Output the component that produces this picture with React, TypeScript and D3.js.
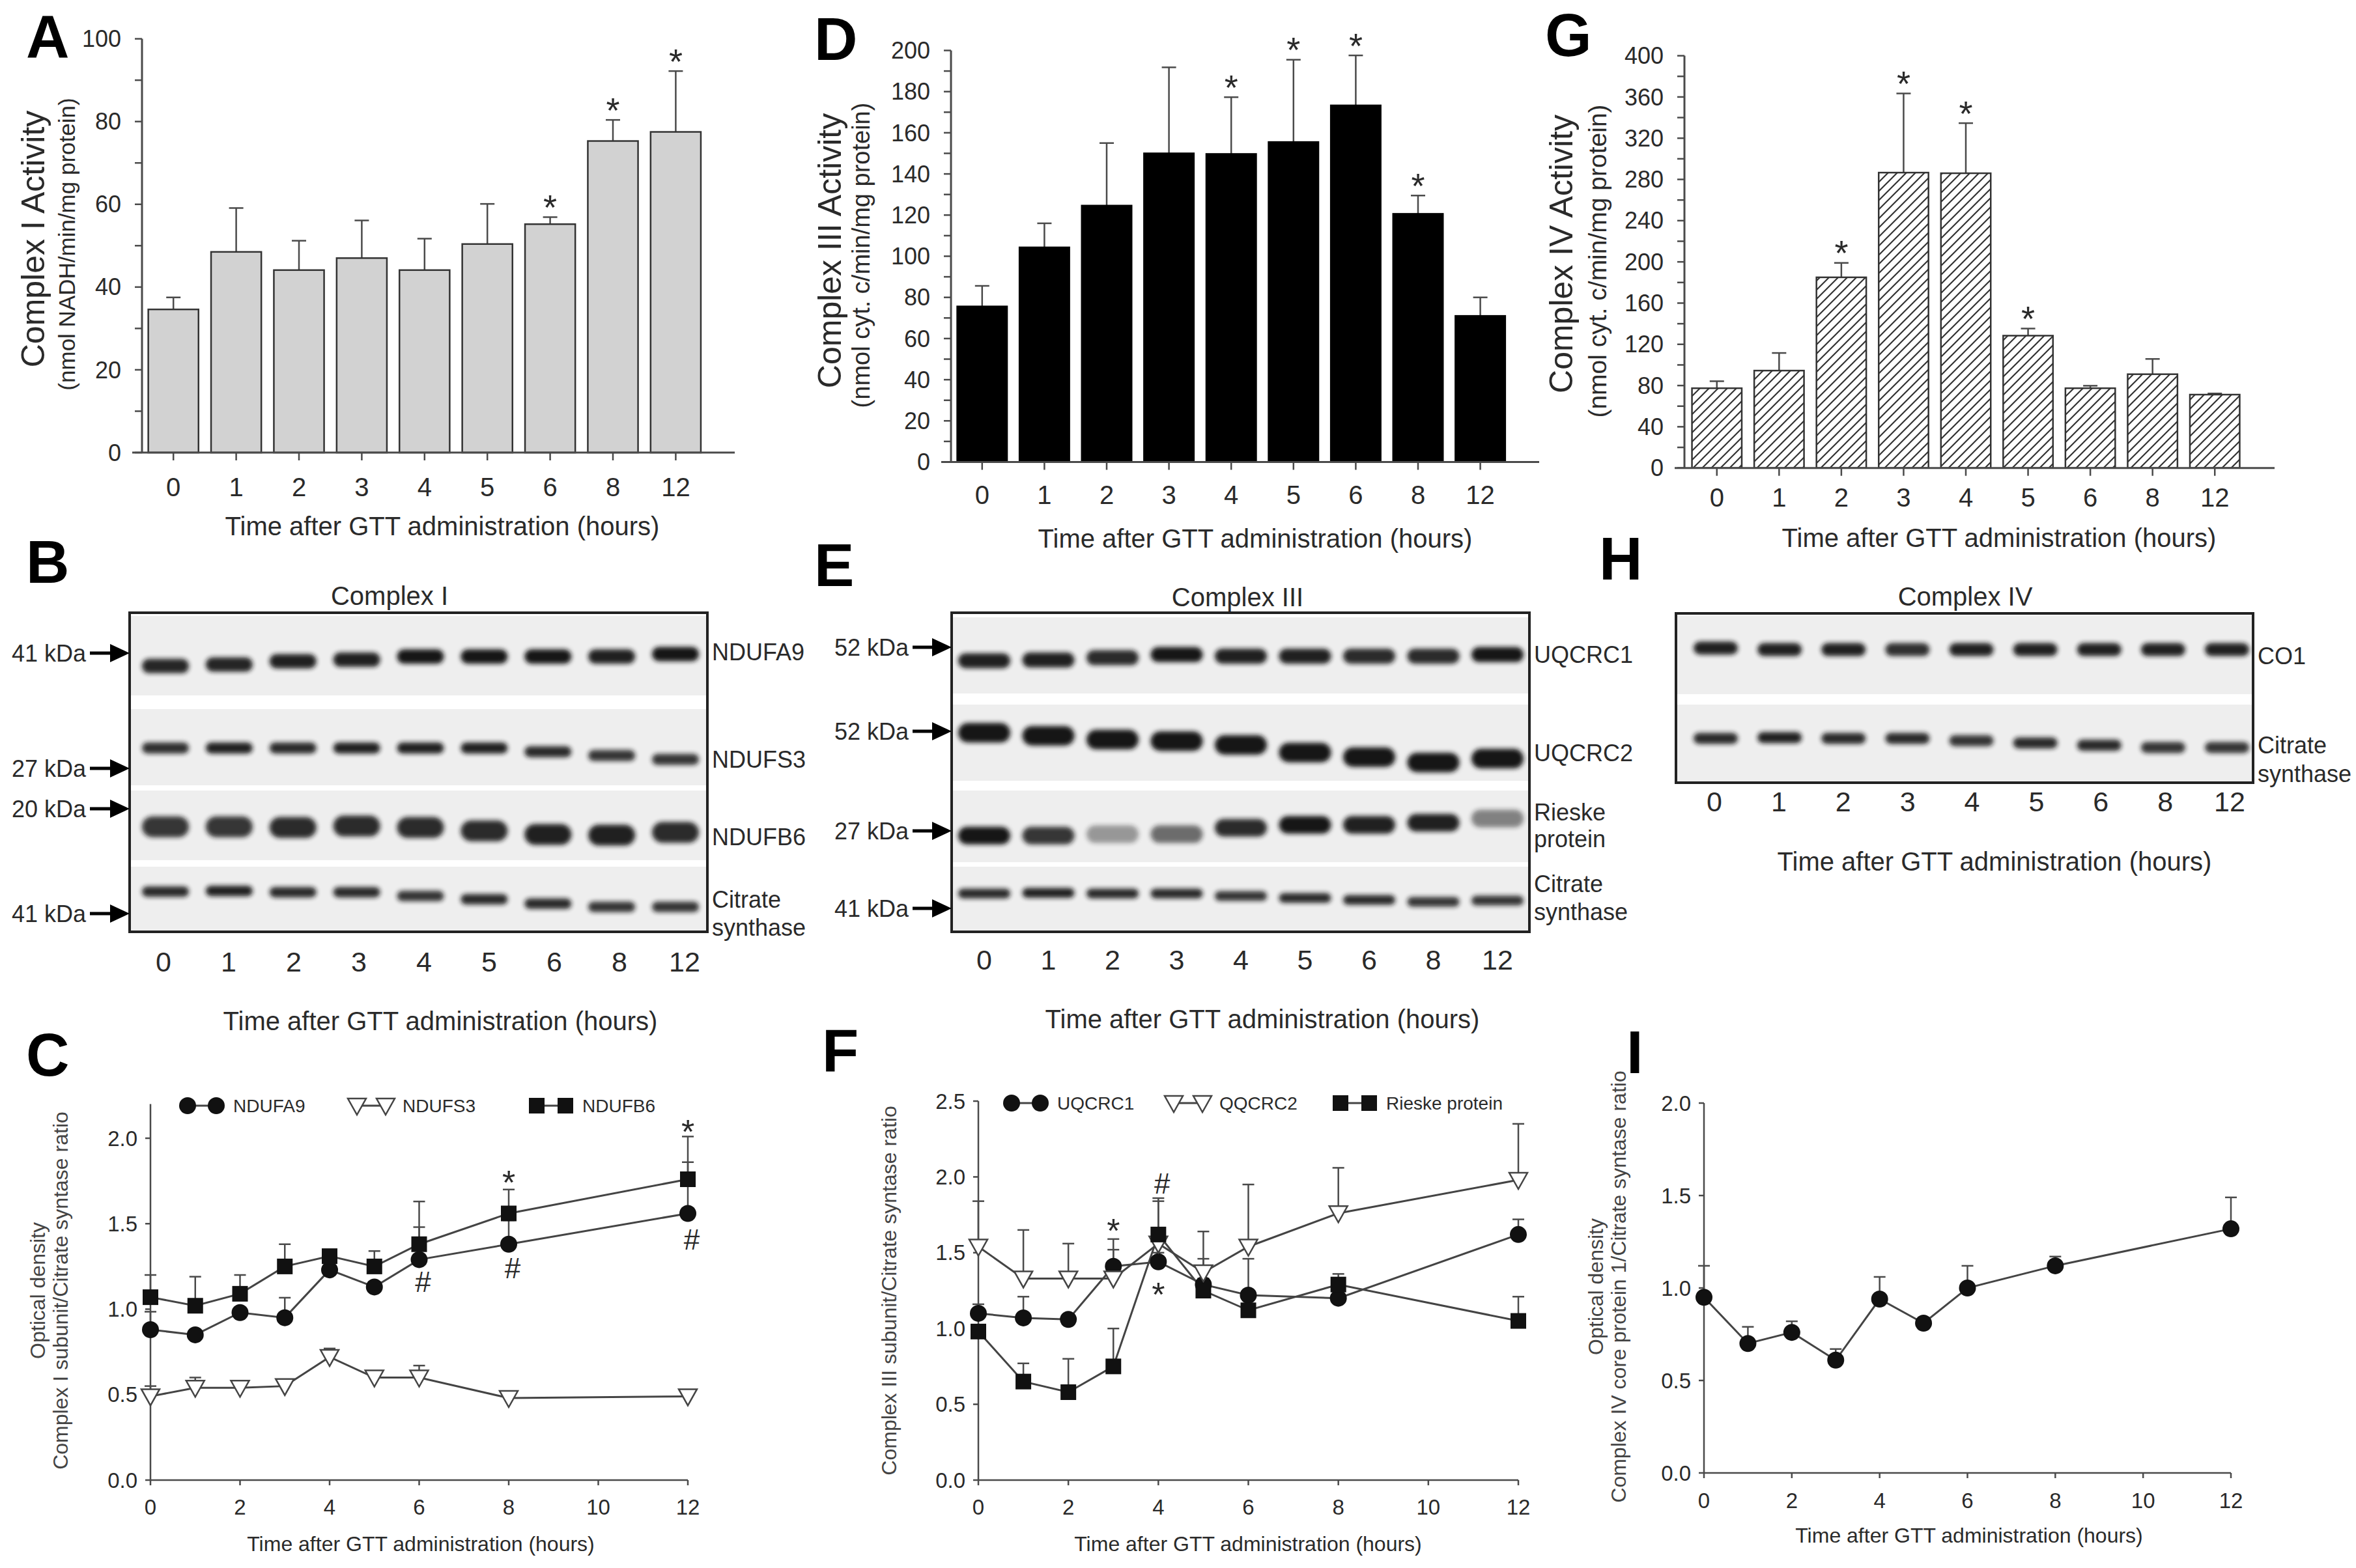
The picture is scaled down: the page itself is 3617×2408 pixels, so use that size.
import * as d3 from "d3"

const FONT = "'Liberation Sans', Arial, Helvetica, sans-serif"
const W = 3617
const H = 2408
const INK = "#2a2a2a"
const AXIS = "#4a4a4a"

// time points shared by every panel
const timeLabels = ["0", "1", "2", "3", "4", "5", "6", "8", "12"]
const timeHours = [0, 1, 2, 3, 4, 5, 6, 8, 12]

// A: complex I activity (nmol NADH/min/mg protein)
const complexIActivity = [34.6, 48.5, 44.1, 47.0, 44.1, 50.4, 55.2, 75.3, 77.5]
const complexIErrTop = [37.5, 59.1, 51.2, 56.1, 51.7, 60.1, 56.9, 80.4, 92.2]
const complexIStars = [0, 0, 0, 0, 0, 0, 1, 1, 1]

// D: complex III activity (nmol cyt. c/min/mg protein)
const complexIIIActivity = [75.6, 104.3, 124.6, 150.0, 149.7, 155.5, 173.3, 120.6, 71.0]
const complexIIIErrTop = [85.6, 116.0, 155.0, 191.8, 177.3, 195.5, 197.6, 129.5, 80.0]
const complexIIIStars = [0, 0, 0, 0, 1, 1, 1, 1, 0]

// G: complex IV activity (nmol cyt. c/min/mg protein)
const complexIVActivity = [77.4, 94.5, 185.0, 286.6, 286.0, 128.4, 77.4, 91.0, 71.2]
const complexIVErrTop = [84.2, 111.6, 199.0, 363.4, 334.6, 135.3, 79.8, 105.8, 72.3]
const complexIVStars = [0, 0, 1, 1, 1, 1, 0, 0, 0]

// blots: band migration inside its strip (0 = top, 1 = bottom) and band intensity
const ndufa9Pos = [0.63, 0.61, 0.57, 0.55, 0.51, 0.51, 0.51, 0.51, 0.48]
const ndufa9Int = [0.92, 0.93, 0.95, 0.95, 1, 1, 1, 0.95, 1]
const ndufs3Pos = [0.51, 0.51, 0.51, 0.51, 0.51, 0.51, 0.56, 0.61, 0.66]
const ndufs3Int = [0.88, 0.95, 0.9, 0.95, 0.95, 0.95, 0.9, 0.85, 0.85]
const ndufb6Pos = [0.52, 0.52, 0.53, 0.51, 0.53, 0.58, 0.63, 0.64, 0.6]
const ndufb6Int = [0.85, 0.85, 0.9, 0.9, 0.9, 0.9, 0.95, 0.95, 0.9]
const csIPos = [0.39, 0.38, 0.4, 0.4, 0.46, 0.51, 0.58, 0.63, 0.63]
const csIInt = [0.9, 0.95, 0.9, 0.9, 0.85, 0.9, 0.9, 0.85, 0.85]

const uqcrc1Pos = [0.57, 0.56, 0.53, 0.49, 0.51, 0.51, 0.51, 0.51, 0.49]
const uqcrc1Int = [0.95, 0.95, 0.9, 1, 0.95, 0.95, 0.9, 0.9, 1]
const uqcrc2Pos = [0.37, 0.41, 0.46, 0.48, 0.53, 0.63, 0.69, 0.76, 0.71]
const uqcrc2Int = [1, 1, 1, 1, 1, 1, 1, 1, 1]
const rieskePos = [0.63, 0.63, 0.61, 0.61, 0.52, 0.48, 0.48, 0.45, 0.39]
const rieskeInt = [1, 0.85, 0.4, 0.6, 0.9, 1, 0.95, 0.95, 0.5]
const csIIIPos = [0.42, 0.41, 0.42, 0.42, 0.46, 0.49, 0.52, 0.55, 0.53]
const csIIIInt = [0.9, 0.95, 0.9, 0.9, 0.85, 0.9, 0.9, 0.85, 0.85]

const co1Pos = [0.41, 0.43, 0.43, 0.43, 0.43, 0.43, 0.43, 0.43, 0.43]
const co1Int = [0.95, 0.95, 0.95, 0.88, 0.95, 0.95, 0.95, 0.95, 0.95]
const csIVPos = [0.44, 0.43, 0.44, 0.44, 0.47, 0.5, 0.53, 0.56, 0.56]
const csIVInt = [0.9, 0.95, 0.9, 0.9, 0.85, 0.9, 0.9, 0.85, 0.85]

// C: complex I subunit / citrate synthase ratio
const ndufa9Ratio = [0.88, 0.85, 0.98, 0.95, 1.23, 1.13, 1.29, 1.38, 1.56]
const ndufa9RatioErr = [0.985, 0.87, 1.0, 1.067, 1.25, 1.15, 1.48, 1.52, 1.86]
const ndufs3Ratio = [0.49, 0.54, 0.54, 0.55, 0.72, 0.6, 0.6, 0.48, 0.49]
const ndufs3RatioErr = [0.55, 0.6, 0.56, 0.57, 0.77, 0.62, 0.67, 0.49, 0.5]
const ndufb6Ratio = [1.07, 1.02, 1.09, 1.25, 1.31, 1.25, 1.38, 1.56, 1.76]
const ndufb6RatioErr = [1.2, 1.19, 1.2, 1.38, 1.33, 1.34, 1.63, 1.7, 2.01]
const annotC = [
  { h: 8, v: 1.78, s: "*" },
  { h: 12, v: 2.08, s: "*" },
  { h: 6, v: 1.16, s: "#" },
  { h: 8, v: 1.24, s: "#" },
  { h: 12, v: 1.41, s: "#" },
]

// F: complex III subunit / citrate synthase ratio
const uqcrc1Ratio = [1.1, 1.07, 1.06, 1.41, 1.44, 1.29, 1.22, 1.2, 1.62]
const uqcrc1RatioErr = [1.16, 1.21, 1.08, 1.59, 1.5, 1.33, 1.46, 1.22, 1.72]
const qqcrc2Ratio = [1.54, 1.33, 1.33, 1.33, 1.56, 1.37, 1.54, 1.76, 1.98]
const qqcrc2RatioErr = [1.84, 1.65, 1.56, 1.52, 1.86, 1.64, 1.95, 2.06, 2.35]
const rieskeRatio = [0.98, 0.65, 0.58, 0.75, 1.62, 1.25, 1.12, 1.29, 1.05]
const rieskeRatioErr = [1.0, 0.77, 0.8, 1.0, 1.84, 1.46, 1.14, 1.36, 1.21]
const annotF = [
  { h: 3, v: 1.69, s: "*" },
  { h: 4, v: 1.96, s: "#" },
  { h: 4, v: 1.27, s: "*" },
]

// I: complex IV core protein 1 / citrate synthase ratio
const co1Ratio = [0.95, 0.7, 0.76, 0.61, 0.94, 0.81, 1.0, 1.12, 1.32]
const co1RatioErr = [1.12, 0.79, 0.82, 0.67, 1.06, 0.84, 1.12, 1.17, 1.49]

const xTitle = "Time after GTT administration (hours)"

function Letter({ x, y, t }) {
  return (
    <text x={x} y={y} fontSize={92} fontWeight="bold" fill="#000">
      {t}
    </text>
  )
}

function BarPanel(p) {
  const x = d3.scaleBand().domain(timeLabels).range(p.band).paddingInner(0.2).paddingOuter(0.1)
  const y = d3.scaleLinear().domain([0, p.max]).range([p.zeroY, p.topY])
  const bw = x.bandwidth()
  const ticks = d3.range(0, p.max + 1e-6, p.minor)
  const starSize = 54
  return (
    <g>
      <Letter x={p.letterX} y={p.letterY} t={p.letter} />
      {p.values.map((v, i) => {
        const cx = x(timeLabels[i]) + bw / 2
        const yt = y(p.errTop[i])
        return (
          <g key={i}>
            <line x1={cx} x2={cx} y1={y(v)} y2={yt} stroke={AXIS} strokeWidth={2.5} />
            <line x1={cx - 11} x2={cx + 11} y1={yt} y2={yt} stroke={AXIS} strokeWidth={2.5} />
            <rect
              x={x(timeLabels[i])}
              y={y(v)}
              width={bw}
              height={y(0) - y(v)}
              fill={p.fill}
              stroke={p.stroke}
              strokeWidth={2.5}
            />
            {p.stars[i] ? (
              <text x={cx} y={yt - 26 + 0.55 * starSize} fontSize={starSize} textAnchor="middle" fill={INK}>
                *
              </text>
            ) : null}
          </g>
        )
      })}
      <line x1={p.axisX} x2={p.axisX} y1={p.zeroY} y2={p.topY} stroke={AXIS} strokeWidth={3} />
      <line x1={p.xLine[0]} x2={p.xLine[1]} y1={p.zeroY} y2={p.zeroY} stroke={AXIS} strokeWidth={3} />
      {ticks.map((t) => (
        <line key={t} x1={p.axisX - 11} x2={p.axisX} y1={y(t)} y2={y(t)} stroke={AXIS} strokeWidth={2.5} />
      ))}
      {d3.range(0, p.max + 1e-6, p.major).map((t) => (
        <text key={t} x={p.axisX - 32} y={y(t)} dy="0.35em" fontSize={36} textAnchor="end" fill={INK}>
          {t}
        </text>
      ))}
      {timeLabels.map((l) => {
        const cx = x(l) + bw / 2
        return (
          <g key={l}>
            <line x1={cx} x2={cx} y1={p.zeroY} y2={p.zeroY + 12} stroke={AXIS} strokeWidth={2.5} />
            <text x={cx} y={p.tickLabelY} dy="0.35em" fontSize={40} textAnchor="middle" fill={INK}>
              {l}
            </text>
          </g>
        )
      })}
      <text x={p.xTitleX} y={p.xTitleY} dy="0.35em" fontSize={40} textAnchor="middle" fill={INK}>
        {xTitle}
      </text>
      <text
        transform={`translate(${p.titleX},${p.titleY}) rotate(-90)`}
        dy="0.35em"
        fontSize={50}
        textAnchor="middle"
        fill={INK}
      >
        {p.title}
      </text>
      <text
        transform={`translate(${p.subX},${p.subY}) rotate(-90)`}
        dy="0.35em"
        fontSize={p.subSize}
        textAnchor="middle"
        fill={INK}
      >
        {p.sub}
      </text>
    </g>
  )
}

function Arrow({ x1, tip, y }) {
  return (
    <g>
      <line x1={x1} x2={tip - 20} y1={y} y2={y} stroke="#000" strokeWidth={5} />
      <path d={`M${tip},${y} L${tip - 30},${y - 14} L${tip - 30},${y + 14} Z`} fill="#000" />
    </g>
  )
}

function Blot(p) {
  const lane = d3.scalePoint().domain(timeLabels).range(p.lanes)
  const laneLabel = d3.scalePoint().domain(timeLabels).range(p.laneLabels)
  return (
    <g>
      <Letter x={p.letterX} y={p.letterY} t={p.letter} />
      <text x={p.titleX} y={p.titleY} dy="0.35em" fontSize={40} textAnchor="middle" fill={INK}>
        {p.title}
      </text>
      {p.strips.map((s, si) => {
        const yPos = d3.scaleLinear().domain([0, 1]).range([s.top, s.bottom])
        return (
          <g key={si}>
            <rect x={p.box[0]} y={s.top} width={p.box[1] - p.box[0]} height={s.bottom - s.top} fill="#eeeeee" />
            {s.pos.map((f, i) => (
              <rect
                key={i}
                x={lane(timeLabels[i]) - p.bandW / 2}
                y={yPos(f) - s.thick / 2}
                width={p.bandW}
                height={s.thick}
                rx={s.thick / 2}
                fill="#121212"
                opacity={s.int[i]}
                filter="url(#bandBlur)"
              />
            ))}
            {s.labels.map((l, li) => (
              <text key={li} x={p.box[1] + 7} y={l.y} dy="0.35em" fontSize={36} fill={INK}>
                {l.t}
              </text>
            ))}
          </g>
        )
      })}
      <rect
        x={p.box[0]}
        y={p.boxY[0]}
        width={p.box[1] - p.box[0]}
        height={p.boxY[1] - p.boxY[0]}
        fill="none"
        stroke="#222"
        strokeWidth={4}
      />
      {p.kda.map((k, i) => (
        <g key={i}>
          <text x={p.kdaRight} y={k.y} dy="0.35em" fontSize={36} textAnchor="end" fill={INK}>
            {k.t}
          </text>
          <Arrow x1={p.kdaRight + 6} tip={p.box[0]} y={k.y} />
        </g>
      ))}
      {timeLabels.map((l) => (
        <text key={l} x={laneLabel(l)} y={p.laneY} dy="0.35em" fontSize={43} textAnchor="middle" fill={INK}>
          {l}
        </text>
      ))}
      <text x={p.xTitleX} y={p.xTitleY} dy="0.35em" fontSize={40} textAnchor="middle" fill={INK}>
        {xTitle}
      </text>
    </g>
  )
}

function Marker({ kind, cx, cy }) {
  if (kind === "circle") return <circle cx={cx} cy={cy} r={13} fill="#111" />
  if (kind === "square") return <rect x={cx - 12} y={cy - 12} width={24} height={24} fill="#111" />
  return (
    <path
      d={`M${cx - 14},${cy - 11} L${cx + 14},${cy - 11} L${cx},${cy + 14} Z`}
      fill="#fff"
      stroke="#444"
      strokeWidth={2.5}
    />
  )
}

function LinePanel(p) {
  const x = d3.scaleLinear().domain([0, 12]).range([p.axisX, p.xEnd])
  const y = d3.scaleLinear().domain([0, p.yMax]).range([p.zeroY, p.topY])
  const line = d3
    .line()
    .x((_, i) => x(timeHours[i]))
    .y((v) => y(v))
  const fs = 33
  return (
    <g>
      <Letter x={p.letterX} y={p.letterY} t={p.letter} />
      <line x1={p.axisX} x2={p.axisX} y1={p.zeroY} y2={p.topY} stroke={AXIS} strokeWidth={2.5} />
      <line x1={p.axisX} x2={x(12)} y1={p.zeroY} y2={p.zeroY} stroke={AXIS} strokeWidth={2.5} />
      {d3.range(0, 2.0001, 0.5).concat(p.yMax >= 2.5 ? [2.5] : []).map((t) => (
        <g key={t}>
          <line x1={p.axisX - 8} x2={p.axisX} y1={y(t)} y2={y(t)} stroke={AXIS} strokeWidth={2.5} />
          <text x={p.axisX - 20} y={y(t)} dy="0.35em" fontSize={fs} textAnchor="end" fill={INK}>
            {d3.format(".1f")(t)}
          </text>
        </g>
      ))}
      {d3.range(0, 13, 2).map((t) => (
        <g key={t}>
          <line x1={x(t)} x2={x(t)} y1={p.zeroY} y2={p.zeroY + 8} stroke={AXIS} strokeWidth={2.5} />
          <text x={x(t)} y={p.tickLabelY} dy="0.35em" fontSize={fs} textAnchor="middle" fill={INK}>
            {t}
          </text>
        </g>
      ))}
      <text x={p.xTitleX} y={p.xTitleY} dy="0.35em" fontSize={32} textAnchor="middle" fill={INK}>
        {xTitle}
      </text>
      {p.yLabels.map((l, i) => (
        <text
          key={i}
          transform={`translate(${p.yLabelXs[i]},${p.yLabelY}) rotate(-90)`}
          dy="0.35em"
          fontSize={32}
          textAnchor="middle"
          fill="#444"
        >
          {l}
        </text>
      ))}
      {p.series.map((s, si) => (
        <g key={"e" + si}>
          {s.values.map((v, i) => {
            const cx = x(timeHours[i])
            const yt = y(s.err[i])
            return (
              <g key={i}>
                <line x1={cx} x2={cx} y1={y(v)} y2={yt} stroke={AXIS} strokeWidth={2.5} />
                <line x1={cx - 9} x2={cx + 9} y1={yt} y2={yt} stroke={AXIS} strokeWidth={2.5} />
              </g>
            )
          })}
        </g>
      ))}
      {p.series.map((s, si) => (
        <path key={"l" + si} d={line(s.values)} fill="none" stroke="#444" strokeWidth={3} />
      ))}
      {p.series.map((s, si) => (
        <g key={"m" + si}>
          {s.values.map((v, i) => (
            <Marker key={i} kind={s.kind} cx={x(timeHours[i])} cy={y(v)} />
          ))}
        </g>
      ))}
      {p.annots.map((a, i) => (
        <text
          key={i}
          x={x(a.h) + (a.s === "#" ? 6 : 0)}
          y={y(a.v) + (a.s === "*" ? 0.55 * 52 : 0.36 * 44)}
          fontSize={a.s === "*" ? 52 : 44}
          textAnchor="middle"
          fill={INK}
        >
          {a.s}
        </text>
      ))}
      {p.legendX.length > 0
        ? p.series.map((s, si) => {
            const lx = p.legendX[si]
            return (
              <g key={"g" + si}>
                <line x1={lx} x2={lx + 44} y1={p.legendY} y2={p.legendY} stroke="#444" strokeWidth={3} />
                <Marker kind={s.kind} cx={lx} cy={p.legendY} />
                <Marker kind={s.kind} cx={lx + 44} cy={p.legendY} />
                <text x={lx + 70} y={p.legendY} dy="0.35em" fontSize={28} fill={INK}>
                  {s.name}
                </text>
              </g>
            )
          })
        : null}
    </g>
  )
}

export default function App() {
  return (
    <svg
      width={W}
      height={H}
      viewBox={`0 0 ${W} ${H}`}
      fontFamily={FONT}
      style={{ position: "absolute", left: 0, top: 0, display: "block", background: "#fff" }}
    >
      <defs>
        <filter id="bandBlur" x="-30%" y="-80%" width="160%" height="260%">
          <feGaussianBlur stdDeviation="3.5" />
        </filter>
        <pattern id="hatch" patternUnits="userSpaceOnUse" width={14} height={14}>
          <path d="M-3,3 L3,-3 M0,14 L14,0 M11,17 L17,11" stroke="#333" strokeWidth={2.2} />
        </pattern>
      </defs>
      <rect width={W} height={H} fill="#fff" />

      <BarPanel
        letter="A" letterX={40} letterY={88}
        band={[218, 1085.6]} axisX={218} zeroY={695} topY={59.6} max={100} major={20} minor={10}
        xLine={[203, 1128]} values={complexIActivity} errTop={complexIErrTop} stars={complexIStars}
        fill="#d2d2d2" stroke="#333"
        title="Complex I Activity" titleX={50} titleY={367}
        sub="(nmol NADH/min/mg protein)" subX={103} subY={375} subSize={35}
        tickLabelY={748} xTitleX={679} xTitleY={808}
      />
      <BarPanel
        letter="D" letterX={1250} letterY={92}
        band={[1460, 2320.4]} axisX={1460} zeroY={709.5} topY={77.5} max={200} major={20} minor={10}
        xLine={[1445, 2363]} values={complexIIIActivity} errTop={complexIIIErrTop} stars={complexIIIStars}
        fill="#000" stroke="#000"
        title="Complex III Activity" titleX={1273} titleY={385}
        sub="(nmol cyt. c/min/mg protein)" subX={1322} subY={392} subSize={38}
        tickLabelY={760} xTitleX={1927} xTitleY={827}
      />
      <BarPanel
        letter="G" letterX={2372} letterY={86}
        band={[2588, 3448]} axisX={2586} zeroY={718.7} topY={85.6} max={400} major={40} minor={20}
        xLine={[2571, 3492]} values={complexIVActivity} errTop={complexIVErrTop} stars={complexIVStars}
        fill="url(#hatch)" stroke="#333"
        title="Complex IV Activity" titleX={2396} titleY={390}
        sub="(nmol cyt. c/min/mg protein)" subX={2452} subY={401} subSize={39}
        tickLabelY={764} xTitleX={3069} xTitleY={826}
      />

      <Blot
        letter="B" letterX={40} letterY={895}
        title="Complex I" titleX={598} titleY={915}
        box={[199, 1086]} boxY={[941, 1431]} bandW={72}
        lanes={[254, 1037]} laneLabels={[251, 1051]} laneY={1477}
        xTitleX={676} xTitleY={1568} kdaRight={132}
        kda={[
          { t: "41 kDa", y: 1003 },
          { t: "27 kDa", y: 1180 },
          { t: "20 kDa", y: 1242 },
          { t: "41 kDa", y: 1403 },
        ]}
        strips={[
          { top: 946, bottom: 1068, thick: 22, pos: ndufa9Pos, int: ndufa9Int, labels: [{ t: "NDUFA9", y: 1001 }] },
          { top: 1089, bottom: 1206, thick: 17, pos: ndufs3Pos, int: ndufs3Int, labels: [{ t: "NDUFS3", y: 1166 }] },
          { top: 1214, bottom: 1321, thick: 32, pos: ndufb6Pos, int: ndufb6Int, labels: [{ t: "NDUFB6", y: 1285 }] },
          {
            top: 1331, bottom: 1429, thick: 16, pos: csIPos, int: csIInt,
            labels: [{ t: "Citrate", y: 1381 }, { t: "synthase", y: 1424 }],
          },
        ]}
      />
      <Blot
        letter="E" letterX={1250} letterY={900}
        title="Complex III" titleX={1900} titleY={917}
        box={[1461, 2348]} boxY={[941, 1431]} bandW={80}
        lanes={[1511, 2299]} laneLabels={[1511, 2299]} laneY={1474}
        xTitleX={1938} xTitleY={1565} kdaRight={1395}
        kda={[
          { t: "52 kDa", y: 994 },
          { t: "52 kDa", y: 1123 },
          { t: "27 kDa", y: 1276 },
          { t: "41 kDa", y: 1395 },
        ]}
        strips={[
          { top: 948, bottom: 1065, thick: 23, pos: uqcrc1Pos, int: uqcrc1Int, labels: [{ t: "UQCRC1", y: 1005 }] },
          { top: 1082, bottom: 1199, thick: 30, pos: uqcrc2Pos, int: uqcrc2Int, labels: [{ t: "UQCRC2", y: 1156 }] },
          {
            top: 1214, bottom: 1324, thick: 27, pos: rieskePos, int: rieskeInt,
            labels: [{ t: "Rieske", y: 1247 }, { t: "protein", y: 1288 }],
          },
          {
            top: 1331, bottom: 1429, thick: 15, pos: csIIIPos, int: csIIIInt,
            labels: [{ t: "Citrate", y: 1357 }, { t: "synthase", y: 1400 }],
          },
        ]}
      />
      <Blot
        letter="H" letterX={2455} letterY={890}
        title="Complex IV" titleX={3017} titleY={916}
        box={[2573, 3459]} boxY={[942, 1202]} bandW={68}
        lanes={[2634, 3419]} laneLabels={[2632, 3423]} laneY={1231}
        xTitleX={3062} xTitleY={1323} kdaRight={0}
        kda={[]}
        strips={[
          { top: 946, bottom: 1066, thick: 20, pos: co1Pos, int: co1Int, labels: [{ t: "CO1", y: 1007 }] },
          {
            top: 1082, bottom: 1200, thick: 17, pos: csIVPos, int: csIVInt,
            labels: [{ t: "Citrate", y: 1144 }, { t: "synthase", y: 1188 }],
          },
        ]}
      />

      <LinePanel
        letter="C" letterX={40} letterY={1652}
        axisX={231} xEnd={1056} zeroY={2273} topY={2273 - 2.2 * 262.5} yMax={2.2}
        tickLabelY={2314} xTitleX={646} xTitleY={2371}
        yLabels={["Optical density", "Complex I subunit/Citrate syntase ratio"]}
        yLabelXs={[58, 93]} yLabelY={1982}
        legendX={[288, 548, 824]} legendY={1698}
        series={[
          { name: "NDUFA9", kind: "circle", values: ndufa9Ratio, err: ndufa9RatioErr },
          { name: "NDUFS3", kind: "triangle", values: ndufs3Ratio, err: ndufs3RatioErr },
          { name: "NDUFB6", kind: "square", values: ndufb6Ratio, err: ndufb6RatioErr },
        ]}
        annots={annotC}
      />
      <LinePanel
        letter="F" letterX={1262} letterY={1645}
        axisX={1502} xEnd={2331} zeroY={2273} topY={1691} yMax={2.5}
        tickLabelY={2314} xTitleX={1916} xTitleY={2371}
        yLabels={["Complex III subunit/Citrate syntase ratio"]}
        yLabelXs={[1365]} yLabelY={1982}
        legendX={[1553, 1802, 2058]} legendY={1694}
        series={[
          { name: "UQCRC1", kind: "circle", values: uqcrc1Ratio, err: uqcrc1RatioErr },
          { name: "QQCRC2", kind: "triangle", values: qqcrc2Ratio, err: qqcrc2RatioErr },
          { name: "Rieske protein", kind: "square", values: rieskeRatio, err: rieskeRatioErr },
        ]}
        annots={annotF}
      />
      <LinePanel
        letter="I" letterX={2497} letterY={1648}
        axisX={2616} xEnd={3425} zeroY={2262} topY={1694} yMax={2.0}
        tickLabelY={2304} xTitleX={3023} xTitleY={2358}
        yLabels={["Optical density", "Complex IV core protein 1/Citrate syntase ratio"]}
        yLabelXs={[2450, 2485]} yLabelY={1976}
        legendX={[]} legendY={0}
        series={[{ name: "CO1", kind: "circle", values: co1Ratio, err: co1RatioErr }]}
        annots={[]}
      />
    </svg>
  )
}
